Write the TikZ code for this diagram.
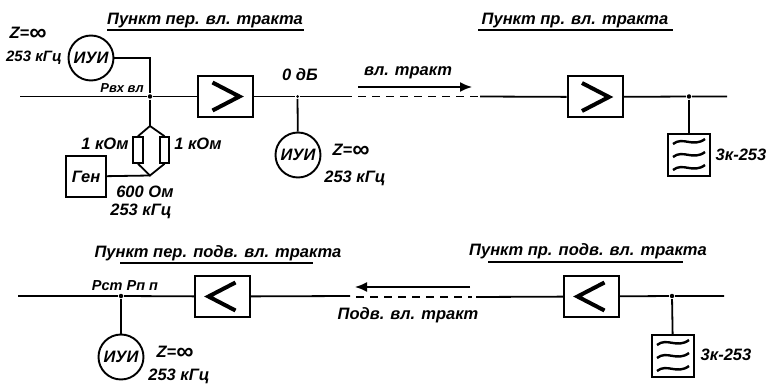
\documentclass[tikz,border=0pt]{standalone}
\usepackage{fontspec}
\setmainfont{Liberation Sans}
\usetikzlibrary{calc, arrows.meta}
\newcommand{\bigoo}{\raisebox{-2.5pt}{\fontsize{24}{18}\selectfont ∞}}
\tikzset{
  wire/.style={line width=1.8pt},
  ampbox/.style={draw, line width=2pt, minimum width=55pt, minimum height=41pt, inner sep=0pt},
  iuibox/.style={draw, circle, line width=1.9pt, minimum size=45pt, inner sep=0pt, txt},
  genbox/.style={draw, line width=1.9pt, minimum width=40pt, minimum height=41pt, inner sep=0pt, txt},
  resbox/.style={draw, line width=1.6pt, minimum width=9.5pt, minimum height=26pt, inner sep=0pt},
  filtbox/.style={draw, line width=2pt, minimum width=42pt, minimum height=42pt, inner sep=0pt},
  dot/.style={circle, fill, minimum size=4.5pt, inner sep=0pt},
  txt/.style={font=\fontsize{16.5}{18}\selectfont\bfseries\itshape, inner sep=0pt},
  freq/.style={font=\fontsize{15}{17}\selectfont\bfseries\itshape, inner sep=0pt},
  small/.style={font=\fontsize{13}{15}\selectfont\bfseries\itshape, inner sep=0pt},
  flow/.style={-{Latex[length=12pt, width=10pt]}, line width=1.6pt}
}
\begin{document}
\begin{tikzpicture}[x=1pt, y=-1pt, wire]
\useasboundingbox (0,0) rectangle (769,385);
% upper path
\node (T1) [txt] at (205,21) {Пункт пер. вл. тракта};
\node (T2) [txt] at (575,21) {Пункт пр. вл. тракта};
\coordinate (A0) at (20,96.5);
\node (J1) [dot] at (150,96.5) {};
\node (A1) [ampbox] at (225.5,96.5) {};
\node (J2) [dot, minimum size=3pt] at (297.5,96.5) {};
\coordinate (A2) at (352,96.5);
\coordinate (B0) at (358,96.5);
\coordinate (B1) at (478,96.5);
\coordinate (B2) at (480,96.5);
\node (A3) [ampbox] at (595,97) {};
\node (J3) [dot] at (689,96.5) {};
\coordinate (A4) at (727,96.5);
\coordinate (C0) at (358,87);
\coordinate (C1) at (472,87);
\draw (A0) -- (J1) -- (A1) -- (J2) -- (A2);
\draw[dashed, dash pattern=on 8pt off 6pt] (B0) -- (B1);
\draw (B2) -- (A3) -- (J3) -- (A4);
\draw[flow] (C0) -- (C1);
\node (L1) [txt] at (408,73) {вл. тракт};
\node (L2) [txt] at (300,75) {0 дБ};
\node (L3) [small] at (122,88) {Рвх вл};
% measuring and generator
\node (M1) [iuibox] at (91,58) {ИУИ};
\node (M2) [iuibox] at (298,155) {ИУИ};
\node (Z1) [txt] at (28,34) {Z=\bigoo};
\node (F1) [freq] at (34,58) {253 кГц};
\node (Z2) [txt] at (351,151) {Z=\bigoo};
\node (F2) [txt] at (355,178) {253 кГц};
\draw (M1.east) -| (J1);
\draw (J2) -- (M2);
\node (R1) [resbox] at (138,150) {};
\node (R2) [resbox] at (164.5,150) {};
\coordinate (D0) at (150,126);
\coordinate (D1) at (150,175.5);
\node (G) [genbox] at (86,176.5) {Ген};
\draw (J1) -- (D0);
\draw (R1.north) -- (D0) -- (R2.north);
\draw (R1.south) -- (D1) -- (R2.south);
\draw (G) -- (D1);
\node (R3) [txt] at (105,144) {1 кОм};
\node (R4) [txt] at (198,144) {1 кОм};
\node (O1) [txt] at (145,192) {600 Ом};
\node (F3) [txt] at (141,211) {253 кГц};
% filters
\node (P1) [filtbox] at (689,155) {};
\node (P2) [filtbox] at (673,356) {};
\draw (J3) -- (P1);
\node (K1) [txt] at (741,155) {3к-253};
\node (K2) [txt] at (726,355) {3к-253};
% lower path
\node (T3) [txt] at (218,253) {Пункт пер. подв. вл. тракта};
\node (T4) [txt] at (588,251) {Пункт пр. подв. вл. тракта};
\coordinate (E0) at (18,296);
\node (J4) [dot] at (121,296) {};
\node (A5) [ampbox] at (222.5,296.5) {};
\coordinate (E1) at (350,296);
\coordinate (H0) at (356,297);
\coordinate (H1) at (472,297);
\coordinate (H2) at (476,297);
\node (A6) [ampbox] at (591.5,296.5) {};
\node (J5) [dot] at (672,296) {};
\coordinate (E2) at (724,296);
\coordinate (I0) at (470,287);
\coordinate (I1) at (355,287);
\draw (E0) -- (J4) -- (A5) -- (E1);
\draw[dashed, dash pattern=on 8pt off 6pt] (H0) -- (H1);
\draw (H2) -- (A6) -- (J5) -- (E2);
\draw[flow] (I0) -- (I1);
\node (M3) [iuibox] at (121,357) {ИУИ};
\draw (J4) -- (M3);
\draw (J5) -- (P2);
\node (L4) [small, font=\fontsize{14.5}{16}\selectfont\bfseries\itshape] at (125,286) {Рст Рп п};
\node (L5) [txt] at (408,315) {Подв. вл. тракт};
\node (Z3) [txt] at (175,353) {Z=\bigoo};
\node (F4) [txt] at (179,376.5) {253 кГц};
% underlines
\draw (107,30) -- (304,30);
\draw (478,30) -- (673,30);
\draw (120,263) -- (313,263);
\draw (488,262) -- (683,262);
% amplifier marks
\foreach \n/\s in {A1/1, A3/1, A5/-1, A6/-1}
  \draw[line width=4pt, miter limit=10] ($(\n.center)+(-13*\s,-14)$) -- ($(\n.center)+(14*\s,0)$) -- ($(\n.center)+(-13*\s,14)$);
% filter marks
\foreach \n in {P1, P2}
  \foreach \d in {-13, 0, 13}
    \draw[line width=2.4pt] ($(\n.center)+(-16,\d+2)$) .. controls ($(\n.center)+(-6,\d-6)$) and ($(\n.center)+(4,\d+6)$) .. ($(\n.center)+(16,\d-3)$);
\end{tikzpicture}
\end{document}
